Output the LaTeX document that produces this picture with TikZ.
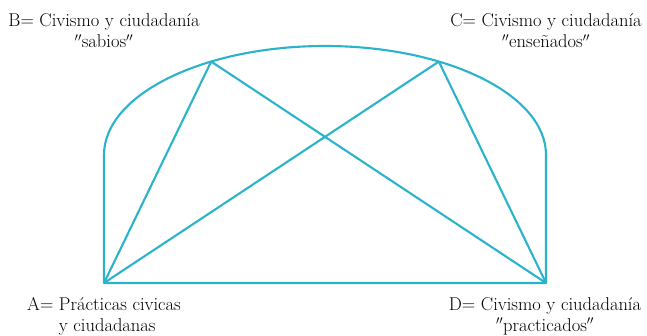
\documentclass[tikz,border=0pt]{standalone}
\usepackage{fontspec}
\usetikzlibrary{positioning, calc}
\definecolor{lineCyan}{HTML}{2BB3CB}

\begin{document}
\begin{tikzpicture}[x=1pt, y=1pt,
  every node/.style={text=black, font=\fontsize{18.5}{21}\selectfont},
  edge/.style={draw=lineCyan, line width=2.1pt, line join=round},
  lbl/.style={align=center, inner sep=0pt}]

  \useasboundingbox (0,0) rectangle (647,336);

  %% ═══════════════════════════════════════════════════════════════
  %% CORNERS
  %% ═══════════════════════════════════════════════════════════════

  \coordinate (pA)  at (104,53);
  \coordinate (pD)  at (546,53);
  \coordinate (ctr) at (325,181);
  \coordinate (aL)  at (104,181);
  \coordinate (pB)  at ($(ctr)+(121:221 and 109)$);
  \coordinate (pC)  at ($(ctr)+(59:221 and 109)$);

  %% ═══════════════════════════════════════════════════════════════
  %% OUTLINE + CROSS LINES
  %% ═══════════════════════════════════════════════════════════════

  \draw[edge] (pA) -- (aL)
      arc[start angle=180, end angle=0, x radius=221pt, y radius=109pt]
      -- (pD) -- cycle;

  \draw[edge] (pA) -- (pB);
  \draw[edge] (pB) -- (pD);
  \draw[edge] (pA) -- (pC);
  \draw[edge] (pC) -- (pD);

  %% ═══════════════════════════════════════════════════════════════
  %% LABELS
  %% ═══════════════════════════════════════════════════════════════

  \node[lbl] (lblB) at (104,305)
      {B= Civismo y ciudadanía\\$''$sabios$''$};
  \node[lbl] (lblC) at (546,305)
      {C= Civismo y ciudadanía\\$''$enseñados$''$};
  \node[lbl, align=left, anchor=west] (lblA) at (27,20)
      {A= Prácticas civicas\\\hphantom{A= }y ciudadanas};
  \node[lbl] (lblD) at (545,20)
      {D= Civismo y ciudadanía\\$''$practicados$''$};

\end{tikzpicture}
\end{document}
